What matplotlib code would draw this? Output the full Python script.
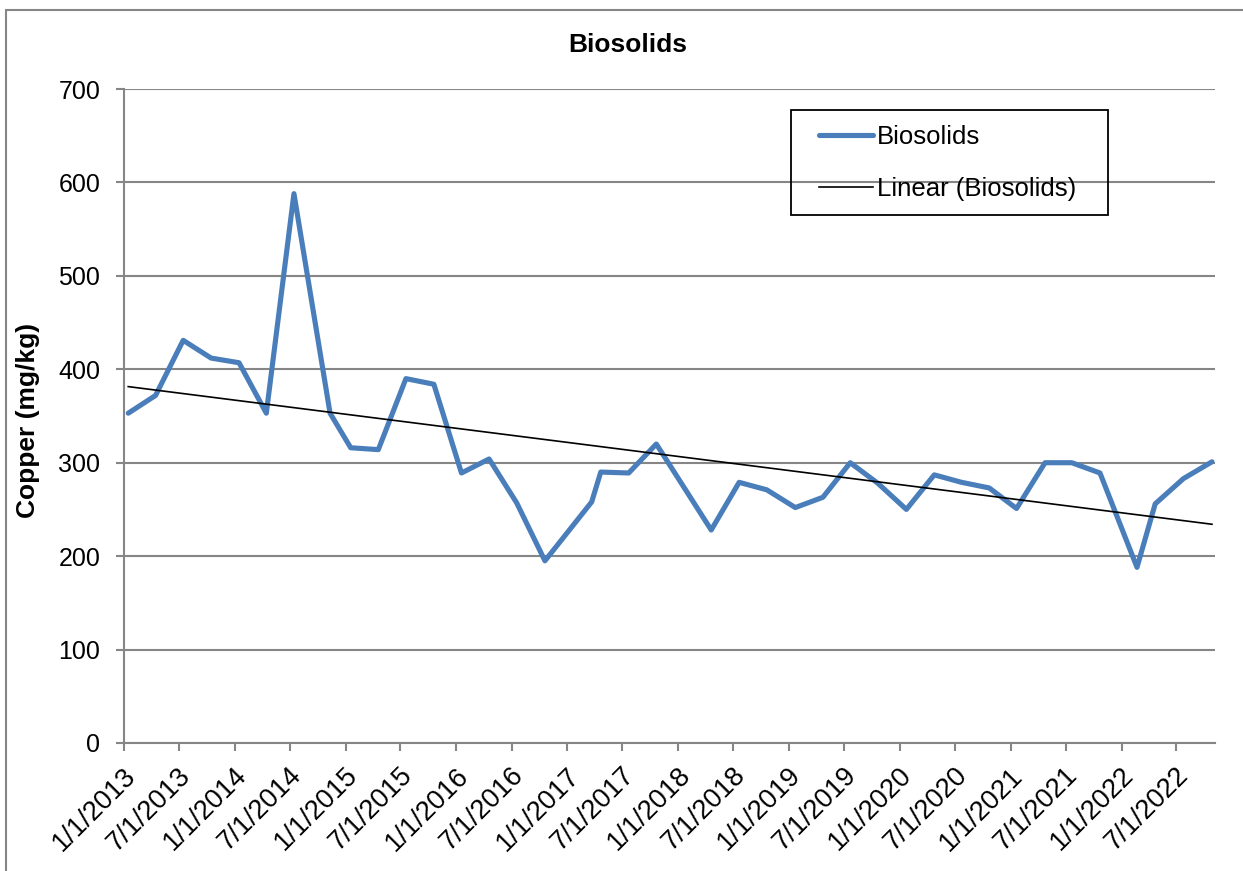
import datetime as dt
import numpy as np
import matplotlib
matplotlib.use("Agg")
import matplotlib.pyplot as plt
import matplotlib.dates as mdates
import matplotlib.transforms as mtransforms
from matplotlib.patches import Rectangle

plt.rcParams['font.family'] = ['Liberation Sans', 'DejaVu Sans']

# sample dates and copper values
sample_dates = [
    "2013-01-15", "2013-04-15", "2013-07-15", "2013-10-15",
    "2014-01-15", "2014-04-15", "2014-07-15", "2014-11-11",
    "2015-01-18", "2015-04-19", "2015-07-19", "2015-10-19",
    "2016-01-18", "2016-04-18", "2016-07-18", "2016-10-19",
    "2017-03-22", "2017-04-21", "2017-07-22", "2017-10-21",
    "2018-04-20", "2018-07-21", "2018-10-20",
    "2019-01-22", "2019-04-23", "2019-07-22", "2019-10-21",
    "2020-01-23", "2020-04-24", "2020-07-23", "2020-10-22",
    "2021-01-20", "2021-04-24", "2021-07-21", "2021-10-22",
    "2022-02-21", "2022-04-22", "2022-07-24", "2022-10-26",
]
copper = [
    353, 372, 431, 412,
    407, 353, 588, 353,
    316, 314, 390, 384,
    289, 304, 257, 195,
    258, 290, 289, 320,
    228, 279, 271,
    252, 263, 300, 278,
    250, 287, 279, 273,
    251, 300, 300, 289,
    188, 256, 283, 301,
]

tick_dates = [f"{y}-{m:02d}-01" for y in range(2013, 2023) for m in (1, 7)]
tick_labels = [
    "1/1/2013", "7/1/2013", "1/1/2014", "7/1/2014", "1/1/2015", "7/1/2015",
    "1/1/2016", "7/1/2016", "1/1/2017", "7/1/2017", "1/1/2018", "7/1/2018",
    "1/1/2019", "7/1/2019", "1/1/2020", "7/1/2020", "1/1/2021", "7/1/2021",
    "1/1/2022", "7/1/2022",
]
y_ticks = [0, 100, 200, 300, 400, 500, 600, 700]

series_name = "Biosolids"
trend_name = "Linear (Biosolids)"

W, H = 1243, 871
GRAY = '#868686'
BLUE = '#4A7EBB'

dates = [dt.datetime.strptime(d, "%Y-%m-%d") for d in sample_dates]
xnum = mdates.date2num(dates)

# linear trend like Excel's trendline
slope, intercept = np.polyfit(xnum, copper, 1)
trend_x = np.array([xnum[0], xnum[-1]])
trend_y = slope * trend_x + intercept

fig = plt.figure(figsize=(W / 100, H / 100), dpi=100)
ax = fig.add_axes([124 / W, 1 - 743 / H, (1215 - 124) / W, (743 - 89) / H])

ax.plot(xnum, copper, color=BLUE, lw=3.7, solid_joinstyle='round',
        solid_capstyle='round', label=series_name, zorder=3)
ax.plot(trend_x, trend_y, color='black', lw=1.2, label=trend_name, zorder=4)

ax.set_ylim(0, 700)
ax.set_yticks(y_ticks)
ax.set_xlim(mdates.date2num(dt.datetime(2013, 1, 1)),
            mdates.date2num(dt.datetime(2022, 11, 5)))
ax.set_xticks(mdates.date2num([dt.datetime.strptime(d, "%Y-%m-%d") for d in tick_dates]))
ax.set_xticklabels(tick_labels, rotation=45, ha='right', va='top',
                   rotation_mode='anchor')

ax.yaxis.grid(True, color=GRAY, lw=1.5)
ax.set_axisbelow(True)
for s in ('top', 'right'):
    ax.spines[s].set_visible(False)
for s in ('left', 'bottom'):
    ax.spines[s].set_color(GRAY)
    ax.spines[s].set_linewidth(1.5)

ax.tick_params(axis='both', direction='out', length=6, width=1.5, color=GRAY,
               labelsize=18, labelcolor='black')
ax.tick_params(axis='x', labelsize=19.5, pad=8)
ax.tick_params(axis='y', pad=11)
offset = mtransforms.ScaledTranslation(-1 / 100, 0, fig.dpi_scale_trans)
for lab in ax.get_xticklabels():
    lab.set_transform(lab.get_transform() + offset)

fig.text(628 / W, 1 - 45 / H, "Biosolids", ha='center', va='center',
         fontsize=19, fontweight='bold')
fig.text(28 / W, 1 - 420 / H, "Copper (mg/kg)", ha='center', va='center',
         rotation=90, fontsize=19, fontweight='bold')

leg = ax.legend(loc='center left', bbox_to_anchor=(819 / W, 1 - 163 / H),
                bbox_transform=fig.transFigure, frameon=False, borderpad=0,
                borderaxespad=0, fontsize=18.5, handlelength=2.1,
                handletextpad=0.15, labelspacing=1.1)
fig.add_artist(Rectangle((791 / W, 1 - 215 / H), (1108 - 791) / W, (215 - 110) / H,
                         transform=fig.transFigure, fill=False, ec='black', lw=1.3))

# chart area border (only top/left visible in the original crop)
fig.add_artist(Rectangle((6 / W, -0.05), 1.1, 1 - 10 / H + 0.05,
                         transform=fig.transFigure, fill=False, ec=GRAY, lw=1.5))

fig.savefig("out.png", dpi=100)
